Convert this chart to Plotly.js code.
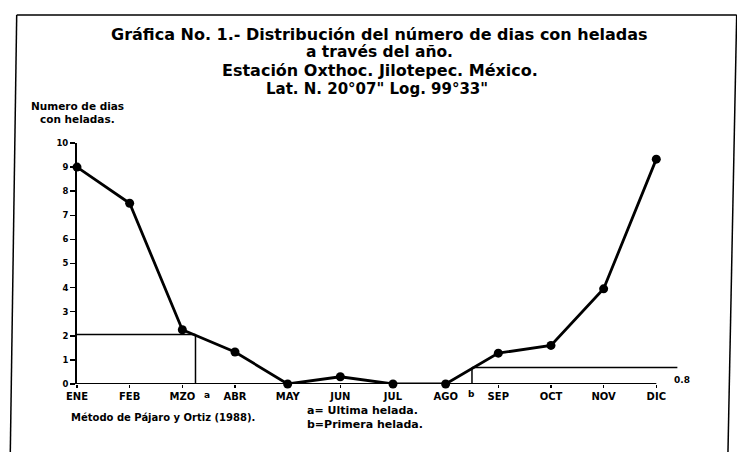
<!DOCTYPE html>
<html><head><meta charset="utf-8">
<script src="https://cdn.plot.ly/plotly-3.0.1.min.js"></script>
<style>html,body{margin:0;padding:0;background:#fff}#chart{width:737px;height:452px}</style>
</head><body><div id="chart"></div>
<script>
const months = ["ENE","FEB","MZO","ABR","MAY","JUN","JUL","AGO","SEP","OCT","NOV","DIC"];
const frostDays = [9.0, 7.5, 2.25, 1.33, 0.0, 0.3, 0.0, 0.0, 1.28, 1.6, 3.95, 9.33];
const lastFrost = {x: 2.25, y: 2.05};   // a = Última helada
const firstFrost = {x: 7.5, y: 0.68, xEnd: 11.4}; // b = Primera helada
const yTicks = [0,1,2,3,4,5,6,7,8,9,10];

const idx = months.map((m,i)=>i);
const F = "DejaVu Sans, Verdana, sans-serif";
const blk = "#000";

const trace = {
  x: idx, y: frostDays, type: "scatter", mode: "lines+markers",
  line: {color: blk, width: 2.8},
  marker: {color: blk, size: 9, symbol: "circle"},
  cliponaxis: false, hoverinfo: "skip"
};

const ln = (x0,y0,x1,y1,w,xref,yref)=>({type:"line",x0,y0,x1,y1,xref:xref||"x",yref:yref||"y",line:{color:blk,width:w||1.5}});

const shapes = [
  ln(0,0,11,0,2),
  ln(0,lastFrost.y,lastFrost.x,lastFrost.y,1.5),
  ln(lastFrost.x,lastFrost.y,lastFrost.x,0,1.5),
  ln(firstFrost.x,firstFrost.y,firstFrost.xEnd,firstFrost.y,1.5),
  ln(firstFrost.x,firstFrost.y,firstFrost.x,0,1.5),
  // page frame
  {type:"line",xref:"paper",yref:"paper",x0:-0.1,y0:1.531,x1:1.094,y1:1.531,line:{color:blk,width:1.5}},
  {type:"line",xref:"paper",yref:"paper",x0:-0.1,y0:1.531,x1:-0.111,y1:-0.35,line:{color:blk,width:1.5}},
  {type:"line",xref:"paper",yref:"paper",x0:1.094,y0:1.531,x1:1.079,y1:-0.35,line:{color:blk,width:1.5}}
];

const ann = (text,x,y,size,opts)=>Object.assign({text,x,y,xref:"paper",yref:"paper",showarrow:false,
  font:{family:F,size:size,color:blk,weight:700},xanchor:"center",yanchor:"middle"},opts||{});

const annotations = [
  ann("Gráfica No. 1.- Distribución del número de dias con heladas",0.502,1.452,16),
  ann("a través del año.",0.502,1.378,15.5),
  ann("Estación Oxthoc. Jilotepec. México.",0.502,1.299,16),
  ann("Lat. N. 20°07\" Log. 99°33\"",0.497,1.224,15),
  ann("Numero de dias",0.0,1.153,10.5),
  ann("con heladas.",0.0,1.100,10.5),
  ann("Método de Pájaro y Ortiz (1988).",0.143,-0.137,10),
  ann("a= Ultima helada.",0.378,-0.108,11,{xanchor:"left"}),
  ann("b=Primera helada.",0.378,-0.168,11,{xanchor:"left"}),
  ann("a",lastFrost.x+0.22,-0.045,9,{xref:"x"}),
  ann("b",firstFrost.x,-0.042,9,{xref:"x"}),
  ann("0.8",1.003,0.017,9)
];

const layout = {
  width:737, height:452,
  margin:{l:77,r:57,t:143,b:68},
  paper_bgcolor:"#fff", plot_bgcolor:"#fff",
  showlegend:false,
  xaxis:{range:[0,11.45],tickvals:idx,ticktext:months,showline:false,showgrid:false,zeroline:false,
    ticks:"outside",ticklen:3,tickwidth:1.5,tickcolor:blk,
    tickfont:{family:F,size:10,color:blk,weight:700}},
  yaxis:{range:[0,10],tickvals:yTicks,showline:true,linecolor:blk,linewidth:2,showgrid:false,zeroline:false,
    ticks:"outside",ticklen:5,tickwidth:1.5,tickcolor:blk,
    tickfont:{family:F,size:8.5,color:blk,weight:700}},
  shapes, annotations
};

Plotly.newPlot("chart",[trace],layout,{staticPlot:true,displayModeBar:false});
</script></body></html>
